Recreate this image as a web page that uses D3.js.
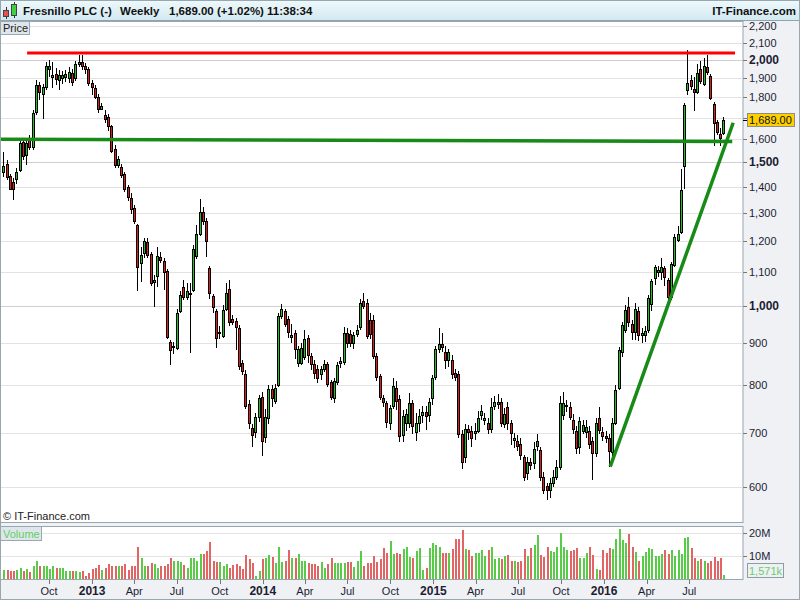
<!DOCTYPE html>
<html>
<head>
<meta charset="utf-8">
<script src="https://d3js.org/d3.v7.min.js"></script>
<style>
  body { margin: 0; background: #fff; }
  svg { display: block; font-family: "Liberation Sans", Arial, sans-serif; }
</style>
</head>
<body>
<script>
// weekly candles, first week starting Monday 25 June 2012
var firstWeek = new Date(2012, 5, 25);

var opens = [1459,1492,1443,1419,1431,1467,1588,1531,1597,1566,1729,1865,1818,1855,1950,1907,1923,1891,1902,1907,
  1902,1929,1902,1977,1989,1966,1950,1876,1849,1802,1743,1714,1704,1662,1557,1488,1479,1451,1398,1355,
  1318,1256,1128,1161,1197,1158,1070,1088,1148,1135,1104,904,891,889,986,1055,1025,1034,1046,1151,
  1225,1303,1270,1113,1028,986,927,919,992,1049,964,959,940,852,826,759,709,701,731,773,
  692,729,791,765,800,972,986,964,917,927,852,852,866,914,869,849,838,826,838,849,
  807,771,807,852,854,927,925,901,925,943,1014,1008,961,961,869,821,771,761,719,755,
  793,769,695,719,719,761,701,719,736,742,736,771,819,886,899,879,859,859,828,826,
  697,653,707,703,699,703,736,725,719,707,755,759,763,717,753,719,685,683,678,653,
  625,644,642,674,666,618,602,595,607,618,635,736,755,753,725,703,672,703,701,703,
  683,661,729,701,693,690,662,719,793,879,935,997,951,930,986,922,922,935,1006,1082,
  1100,1100,1113,1076,1025,1122,1204,1232,1484,1839,1891,1844,1829,1950,1870,1961,1913,1767,1681,1625,
  1629];
var highs = [1544,1509,1451,1435,1475,1597,1606,1606,1620,1738,1891,1881,1870,1989,2000,1989,1955,1945,1940,1945,
  1961,1950,1994,2029,2029,1983,1961,1891,1865,1818,1773,1738,1719,1666,1575,1527,1492,1459,1406,1375,
  1329,1260,1181,1211,1211,1165,1091,1181,1165,1145,1110,909,904,992,1044,1076,1067,1067,1188,1256,
  1352,1322,1281,1119,1034,992,945,1003,1067,1076,975,967,948,859,835,767,717,740,778,784,
  748,800,800,802,981,1006,992,972,951,935,894,901,935,922,876,859,847,844,859,855,
  812,816,855,866,943,940,935,930,948,1020,1037,1020,981,975,876,826,778,765,757,816,
  809,778,746,748,782,767,740,748,755,755,771,823,894,940,927,894,886,871,838,833,
  705,717,715,713,719,744,757,740,729,771,776,780,771,751,763,725,699,695,690,657,
  653,651,681,697,672,627,608,616,630,648,776,784,767,763,738,713,732,725,725,713,
  692,729,753,711,703,697,729,800,891,956,1003,1025,961,1008,997,940,945,1031,1079,1122,
  1119,1145,1119,1082,1131,1225,1253,1470,1770,2058,1918,1907,1977,1994,2011,2029,1923,1778,1690,1652,
  1705];
var lows = [1439,1427,1387,1348,1410,1459,1509,1488,1553,1553,1714,1788,1695,1839,1907,1849,1865,1839,1870,1881,
  1876,1860,1886,1961,1945,1923,1860,1813,1793,1724,1738,1676,1638,1540,1475,1475,1435,1379,1344,1296,
  1260,1044,1070,1145,1145,1058,997,1055,1128,1046,912,847,873,884,981,1017,1017,876,1040,1141,
  1218,1256,1148,1020,981,889,912,914,986,945,948,884,835,823,748,707,672,690,721,655,
  679,717,753,759,795,964,943,914,901,862,842,847,859,852,835,814,805,812,830,795,
  767,761,800,840,847,889,891,886,917,935,992,912,912,862,809,767,753,709,705,748,
  746,681,681,703,709,697,683,701,719,705,721,757,812,876,878,838,842,814,809,690,
  632,642,685,672,685,699,725,715,697,699,746,748,711,709,705,676,670,664,648,610,
  612,630,632,664,610,588,579,582,600,612,630,725,742,725,697,659,659,697,690,668,
  612,653,697,683,679,635,655,715,789,866,927,943,909,909,906,901,904,927,986,1061,
  1085,1076,1058,1003,1017,1116,1197,1225,1390,1813,1839,1733,1818,1870,1860,1918,1788,1570,1620,1570,
  1620];
var closes = [1484,1439,1391,1391,1459,1584,1527,1584,1566,1724,1865,1829,1855,1966,1966,1918,1896,1918,1918,1923,
  1934,1881,1977,1989,1966,1950,1876,1855,1802,1743,1757,1695,1662,1549,1488,1514,1447,1391,1359,1314,
  1270,1116,1155,1200,1155,1067,1076,1151,1138,1100,917,884,894,981,1031,1025,1043,1037,1174,1225,
  1303,1270,1200,1037,997,914,930,989,1037,956,956,943,844,833,755,719,695,731,771,683,
  731,791,771,793,972,992,951,930,922,886,886,889,912,871,849,828,816,838,849,802,
  773,809,847,857,927,901,901,922,935,1008,1000,919,925,869,819,773,763,721,750,798,
  765,693,734,738,761,713,719,734,742,734,763,816,886,899,891,859,879,826,819,697,
  644,707,701,690,703,729,744,729,707,753,763,763,719,738,719,699,690,674,657,618,
  644,639,668,683,618,595,595,607,618,635,761,761,757,732,707,670,723,715,711,678,
  661,719,705,693,690,664,719,789,884,948,989,956,930,992,922,927,932,1023,1073,1116,
  1107,1116,1085,1025,1125,1214,1225,1387,1762,1876,1860,1829,1929,1886,1966,1934,1798,1676,1634,1606,
  1689];
// weekly volume, millions of shares
var volumes = [3.8,4,3.6,3.3,4,4.8,3.3,4.5,3,5.5,8,5.5,5.5,5.5,4.2,5.7,5,4.6,4.6,3.5,
  3.3,3.5,3.5,3,3.5,1.2,2.5,4.5,5,6,4,5,6.5,5.6,5.5,5.6,5.5,6.5,4,5.5,
  5.5,14,9,5.5,5.5,7,6.5,5,5.5,5.6,6.5,9,8,8,7.5,6,5,9,9,8,
  11,11,12,16,8,7.5,7.5,5.5,6.5,5,6,6.5,5.5,4.5,10.5,8.5,7,1.2,3.6,8.5,
  9.2,10.5,9.5,7,14,7.5,8,12.7,9,9,11,8,7.8,7,6.5,6.5,5.6,7.5,5,6.5,
  9,7,7,7,7,7.3,7.3,5.3,8,12,5.5,7,7,10,7.5,8.5,13.3,11.5,16.4,11,
  11.5,11,13,14,9.5,9.3,12,13.5,3.8,4.6,13.5,15.5,15,14,11.3,11.3,11.5,13,17.5,17.5,
  21.5,13,12.6,10,11.3,11.3,12.7,10,12.7,14,8.7,9,8.7,9.8,10.4,7.7,8,7.5,7.7,13,
  10,13.5,15,19.3,10.4,9.5,14,12,11.6,14,20,14,12.7,12.3,12.6,13.5,9,9.3,11.3,14,
  10.5,4.5,3.8,12.6,11.3,13.5,13,17.4,21.6,17,15.5,19.5,14,11.6,7.8,10,11.7,13.5,13,10,
  10,11,12.4,11,12.7,10,12.7,10.8,17.8,18.3,13.4,9.3,8,8.7,7.8,6.8,7.7,9.4,7.8,9,
  1.57];

var priceTicks = [600,700,800,900,1000,1100,1200,1300,1400,1500,1600,1700,1800,1900,2000,2100,2200];
var boldTicks = [1000, 1500, 2000];
var volumeTicks = [10, 20];
var lastPrice = 1689;
var lastVolumeLabel = "1,571k";

var resistanceLine = [{date: new Date(2012, 7, 15), price: 2040}, {date: new Date(2016, 9, 7), price: 2040}];
var supportLine = [{date: new Date(2012, 5, 18), price: 1600}, {date: new Date(2016, 9, 1), price: 1590}];
var trendLine = [{date: new Date(2016, 0, 14), price: 636}, {date: new Date(2016, 9, 3), price: 1676}];

var titleParts = [
  {text: "Fresnillo PLC (-)", x: 23},
  {text: "Weekly", x: 120},
  {text: "1,689.00 (+1.02%)", x: 169},
  {text: "11:38:34", x: 267}
];

var W = 800, H = 600, plotRight = 743;
var priceTop = 21, priceBottom = 523, volTop = 526, volBottom = 579;

var svg = d3.select("body").append("svg")
    .attr("width", W)
    .attr("height", H);

var x = d3.scaleTime()
    .domain([new Date(2012, 5, 18), new Date(2016, 9, 24)])
    .range([0, plotRight]);
var y = d3.scaleLog().domain([1000, 2000]).range([306, 60]);
var yv = d3.scaleLinear().domain([0, 20]).range([volBottom, 533]);

var candles = opens.map(function(o, i) {
    return {
        date: d3.timeWeek.offset(firstWeek, i),
        open: o, high: highs[i], low: lows[i], close: closes[i],
        volume: volumes[i]
    };
});

// backgrounds
var defs = svg.append("defs");
var grad = defs.append("linearGradient").attr("id", "head").attr("x1", 0).attr("y1", 0).attr("x2", 0).attr("y2", 1);
grad.append("stop").attr("offset", "0%").attr("stop-color", "#eef9fc");
grad.append("stop").attr("offset", "100%").attr("stop-color", "#d3e9f1");
defs.append("clipPath").attr("id", "clipPrice").append("rect")
    .attr("x", 0).attr("y", priceTop).attr("width", plotRight).attr("height", priceBottom - priceTop);
defs.append("clipPath").attr("id", "clipVol").append("rect")
    .attr("x", 0).attr("y", volTop).attr("width", plotRight).attr("height", volBottom - volTop);

svg.append("rect").attr("width", W).attr("height", H).attr("fill", "#eff1f4");
svg.append("rect").attr("width", W).attr("height", 20).attr("fill", "url(#head)");
svg.append("line").attr("x1", 0).attr("x2", W).attr("y1", 20.5).attr("y2", 20.5).attr("stroke", "#93a3ad");

svg.append("rect").attr("x", 0.5).attr("y", priceTop + 0.5)
    .attr("width", plotRight - 0.5).attr("height", priceBottom - priceTop - 1)
    .attr("fill", "#fff").attr("stroke", "#98a6b0");
svg.append("rect").attr("x", 0.5).attr("y", volTop + 0.5)
    .attr("width", plotRight - 0.5).attr("height", volBottom - volTop)
    .attr("fill", "#fff").attr("stroke", "#98a6b0");

// header
var icon = svg.append("g");
icon.append("line").attr("x1", 6.5).attr("x2", 6.5).attr("y1", 7).attr("y2", 19).attr("stroke", "#333");
icon.append("rect").attr("x", 3.5).attr("y", 10.5).attr("width", 5).attr("height", 6).attr("fill", "#e85050").attr("stroke", "#444");
icon.append("line").attr("x1", 14.5).attr("x2", 14.5).attr("y1", 2).attr("y2", 18).attr("stroke", "#333");
icon.append("rect").attr("x", 11.5).attr("y", 4.5).attr("width", 5).attr("height", 11).attr("fill", "#40d040").attr("stroke", "#444");

svg.selectAll(".title").data(titleParts).enter().append("text")
    .attr("x", function(d) { return d.x; })
    .attr("y", 15)
    .attr("font-size", "11.5px")
    .attr("font-weight", "bold")
    .attr("fill", "#111")
    .text(function(d) { return d.text; });
svg.append("text").attr("x", 796).attr("y", 15).attr("text-anchor", "end")
    .attr("font-size", "11.5px").attr("font-weight", "bold").attr("fill", "#111")
    .text("IT-Finance.com");

// price grid and axis
var grid = svg.append("g").attr("clip-path", "url(#clipPrice)");
grid.selectAll("line").data(priceTicks).enter().append("line")
    .attr("x1", 1).attr("x2", plotRight)
    .attr("y1", function(d) { return Math.round(y(d)) + 0.5; })
    .attr("y2", function(d) { return Math.round(y(d)) + 0.5; })
    .attr("stroke", function(d) { return boldTicks.indexOf(d) >= 0 ? "#cfcfcf" : "#e2e2e2"; });

var ly = Math.round(y(lastPrice));
// labels hidden behind the last-price box are left out, as on the original
var labelTicks = priceTicks.filter(function(d) { return Math.abs(y(d) - ly) > 10; });

var yAxis = svg.append("g");
yAxis.selectAll("line").data(priceTicks).enter().append("line")
    .attr("x1", plotRight).attr("x2", plotRight + 4)
    .attr("y1", function(d) { return Math.round(y(d)) + 0.5; })
    .attr("y2", function(d) { return Math.round(y(d)) + 0.5; })
    .attr("stroke", "#777");
yAxis.selectAll("text").data(labelTicks).enter().append("text")
    .attr("x", plotRight + 6)
    .attr("y", function(d) { return y(d) + 4; })
    .attr("font-size", function(d) { return boldTicks.indexOf(d) >= 0 ? "12px" : "11px"; })
    .attr("font-weight", function(d) { return boldTicks.indexOf(d) >= 0 ? "bold" : "normal"; })
    .attr("fill", "#1d1d33")
    .text(function(d) { return d3.format(",")(d); });

// candles
var cg = svg.append("g").attr("clip-path", "url(#clipPrice)");
var cx = function(d) { return Math.round(x(d.date)); };
cg.selectAll(".wick").data(candles).enter().append("line")
    .attr("x1", function(d) { return cx(d) + 0.5; })
    .attr("x2", function(d) { return cx(d) + 0.5; })
    .attr("y1", function(d) { return Math.round(y(d.high)); })
    .attr("y2", function(d) { return Math.round(y(d.low)); })
    .attr("stroke", "#000");
cg.selectAll(".body").data(candles).enter().append("rect")
    .attr("x", function(d) { return cx(d) - 0.5; })
    .attr("y", function(d) { return Math.round(y(Math.max(d.open, d.close))) + 0.5; })
    .attr("width", 2)
    .attr("height", function(d) {
        return Math.max(1, Math.round(y(Math.min(d.open, d.close))) - Math.round(y(Math.max(d.open, d.close))));
    })
    .attr("fill", function(d) { return d.close >= d.open ? "#1fc21f" : "#e41b1b"; })
    .attr("stroke", "#000");

// drawn lines
var line = d3.line().x(function(d) { return x(d.date); }).y(function(d) { return y(d.price); });
var lg = svg.append("g").attr("clip-path", "url(#clipPrice)").attr("fill", "none");
lg.append("path").datum(resistanceLine).attr("d", line).attr("stroke", "#ff0000").attr("stroke-width", 3);
lg.append("path").datum(supportLine).attr("d", line).attr("stroke", "#178a17").attr("stroke-width", 3.5);
lg.append("path").datum(trendLine).attr("d", line).attr("stroke", "#178a17").attr("stroke-width", 3.5);

// last price marker
svg.append("line").attr("x1", plotRight).attr("x2", plotRight + 4).attr("y1", ly + 0.5).attr("y2", ly + 0.5).attr("stroke", "#000");
svg.append("rect").attr("x", plotRight + 4.5).attr("y", ly - 6.5).attr("width", 47).attr("height", 13)
    .attr("fill", "#ffd000").attr("stroke", "#8c8c8c");
svg.append("text").attr("x", plotRight + 6).attr("y", ly + 4).attr("font-size", "11px").attr("fill", "#111")
    .text(d3.format(",.2f")(lastPrice));

// labels in price panel
svg.append("rect").attr("x", 0.5).attr("y", priceTop + 0.5).attr("width", 29).attr("height", 13)
    .attr("fill", "#dfe6eb").attr("stroke", "#9aa8b2");
svg.append("text").attr("x", 3).attr("y", priceTop + 11).attr("font-size", "11px").attr("fill", "#222").text("Price");
svg.append("text").attr("x", 3).attr("y", 520).attr("font-size", "11px").attr("fill", "#222").text("\u00a9 IT-Finance.com");

// volume panel
var vg = svg.append("g").attr("clip-path", "url(#clipVol)");
vg.selectAll("line").data(volumeTicks).enter().append("line")
    .attr("x1", 1).attr("x2", plotRight)
    .attr("y1", function(d) { return Math.round(yv(d)) + 0.5; })
    .attr("y2", function(d) { return Math.round(yv(d)) + 0.5; })
    .attr("stroke", "#e4e4e4");
vg.selectAll("rect").data(candles).enter().append("rect")
    .attr("x", function(d) { return cx(d); })
    .attr("y", function(d) { return Math.round(yv(d.volume)); })
    .attr("width", 2)
    .attr("height", function(d) { return volBottom - Math.round(yv(d.volume)); })
    .attr("fill", function(d) { return d.close >= d.open ? "#58cc48" : "#e26464"; });

svg.append("rect").attr("x", 0.5).attr("y", volTop + 0.5).attr("width", 41).attr("height", 14)
    .attr("fill", "#dfe6eb").attr("stroke", "#9aa8b2");
svg.append("text").attr("x", 3).attr("y", volTop + 12).attr("font-size", "11px").attr("fill", "#5fcf5f").text("Volume");

var vAxis = svg.append("g");
vAxis.selectAll("line").data(volumeTicks).enter().append("line")
    .attr("x1", plotRight).attr("x2", plotRight + 4)
    .attr("y1", function(d) { return Math.round(yv(d)) + 0.5; })
    .attr("y2", function(d) { return Math.round(yv(d)) + 0.5; })
    .attr("stroke", "#777");
vAxis.selectAll("text").data(volumeTicks).enter().append("text")
    .attr("x", plotRight + 6)
    .attr("y", function(d) { return yv(d) + 4; })
    .attr("font-size", "11px").attr("fill", "#1d1d33")
    .text(function(d) { return d + "M"; });
svg.append("rect").attr("x", plotRight + 4.5).attr("y", 563.5).attr("width", 36).attr("height", 14)
    .attr("fill", "#eef1f4").attr("stroke", "#8d9ca6");
svg.append("text").attr("x", plotRight + 6).attr("y", 574.5).attr("font-size", "11px").attr("fill", "#6ccc6c")
    .text(lastVolumeLabel);

// time axis
var xTicks = d3.timeMonth.every(3).range(x.domain()[0], x.domain()[1]).filter(function(d) {
    return x(d) > 20 && x(d) < 720;
});
var xa = svg.append("g");
xa.selectAll("line").data(xTicks).enter().append("line")
    .attr("x1", function(d) { return Math.round(x(d)) + 0.5; })
    .attr("x2", function(d) { return Math.round(x(d)) + 0.5; })
    .attr("y1", volBottom + 0.5).attr("y2", volBottom + 5)
    .attr("stroke", "#777");
xa.selectAll("text").data(xTicks).enter().append("text")
    .attr("x", function(d) { return x(d); })
    .attr("y", 595)
    .attr("text-anchor", "middle")
    .attr("font-size", function(d) { return d.getMonth() === 0 ? "12px" : "11px"; })
    .attr("font-weight", function(d) { return d.getMonth() === 0 ? "bold" : "normal"; })
    .attr("fill", "#1d1d33")
    .text(function(d) { return d.getMonth() === 0 ? d.getFullYear() : d3.timeFormat("%b")(d); });

svg.append("rect").attr("x", 0.5).attr("y", 0.5).attr("width", W - 1).attr("height", H - 1)
    .attr("fill", "none").attr("stroke", "#98a6b0");
</script>
</body>
</html>
